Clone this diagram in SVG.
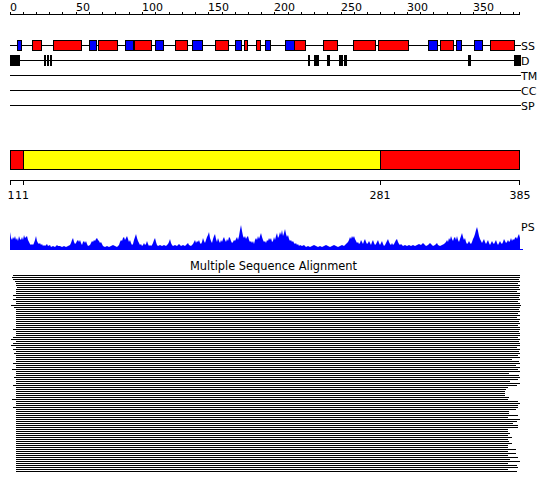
<svg xmlns="http://www.w3.org/2000/svg" width="550" height="495" viewBox="0 0 550 495">
<style>
text{font-family:"DejaVu Sans","Liberation Sans",sans-serif;font-size:11px;fill:#000}
.ln{stroke:#000;stroke-width:1;fill:none}
.h{fill:#ff0000;stroke:#000;stroke-width:1}
.e{fill:#0000ff;stroke:#000;stroke-width:1}
.d{fill:#000}
</style>
<rect width="550" height="495" fill="#fff"/>
<g id="ruler">
<line class="ln" x1="10" y1="14.5" x2="520" y2="14.5"/>
<path class="ln" d="M10.5 12V15M23.5 12V15M36.5 12V15M49.5 12V15M62.5 12V15M76.5 12V15M89.5 12V15M102.5 12V15M115.5 12V15M129.5 12V15M142.5 12V15M155.5 12V15M169.5 12V15M182.5 12V15M195.5 12V15M208.5 12V15M222.5 12V15M235.5 12V15M248.5 12V15M261.5 12V15M274.5 12V15M288.5 12V15M301.5 12V15M314.5 12V15M327.5 12V15M341.5 12V15M354.5 12V15M367.5 12V15M380.5 12V15M394.5 12V15M407.5 12V15M420.5 12V15M433.5 12V15M447.5 12V15M460.5 12V15M473.5 12V15M486.5 12V15M500.5 12V15M513.5 12V15M519.5 12V15"/>
<text x="10" y="10.5">0</text>
<text x="76" y="10.5">50</text>
<text x="142" y="10.5">100</text>
<text x="208" y="10.5">150</text>
<text x="274" y="10.5">200</text>
<text x="341" y="10.5">250</text>
<text x="407" y="10.5">300</text>
<text x="473" y="10.5">350</text>
</g>
<g id="ss-track">
<line class="ln" x1="10" y1="45.5" x2="521" y2="45.5"/>
<rect class="e" x="17.5" y="40.5" width="4" height="10"/>
<rect class="h" x="32.5" y="40.5" width="9" height="10"/>
<rect class="h" x="53.5" y="40.5" width="28" height="10"/>
<rect class="e" x="89.5" y="40.5" width="7" height="10"/>
<rect class="h" x="98.5" y="40.5" width="19" height="10"/>
<rect class="e" x="125.5" y="40.5" width="8" height="10"/>
<rect class="h" x="134.5" y="40.5" width="17" height="10"/>
<rect class="e" x="155.5" y="40.5" width="8" height="10"/>
<rect class="h" x="175.5" y="40.5" width="12" height="10"/>
<rect class="e" x="192.5" y="40.5" width="10" height="10"/>
<rect class="h" x="215.5" y="40.5" width="13" height="10"/>
<rect class="e" x="235.5" y="40.5" width="6" height="10"/>
<rect class="h" x="244.5" y="40.5" width="3" height="10"/>
<rect class="h" x="256.5" y="40.5" width="4" height="10"/>
<rect class="e" x="265.5" y="40.5" width="5" height="10"/>
<rect class="e" x="285.5" y="40.5" width="9" height="10"/>
<rect class="h" x="294.5" y="40.5" width="11" height="10"/>
<rect class="h" x="323.5" y="40.5" width="14" height="10"/>
<rect class="h" x="353.5" y="40.5" width="22" height="10"/>
<rect class="h" x="378.5" y="40.5" width="30" height="10"/>
<rect class="e" x="428.5" y="40.5" width="9" height="10"/>
<rect class="h" x="440.5" y="40.5" width="13" height="10"/>
<rect class="e" x="456.5" y="40.5" width="5" height="10"/>
<rect class="e" x="474.5" y="40.5" width="8" height="10"/>
<rect class="h" x="490.5" y="40.5" width="24" height="10"/>
<text x="521" y="49.5">SS</text>
</g>
<g id="d-track">
<line class="ln" x1="10" y1="60.5" x2="521" y2="60.5"/>
<rect class="d" x="10" y="55" width="10" height="11"/>
<rect class="d" x="44" y="55" width="2" height="11"/>
<rect class="d" x="47" y="55" width="2" height="11"/>
<rect class="d" x="50" y="55" width="2" height="11"/>
<rect class="d" x="308" y="55" width="2" height="11"/>
<rect class="d" x="314" y="55" width="5" height="11"/>
<rect class="d" x="327" y="55" width="3" height="11"/>
<rect class="d" x="339" y="55" width="4" height="11"/>
<rect class="d" x="344" y="55" width="3" height="11"/>
<rect class="d" x="468" y="55" width="3" height="11"/>
<rect class="d" x="514" y="55" width="7" height="11"/>
<text x="521" y="64.5">D</text>
</g>
<g id="tm-track">
<line class="ln" x1="10" y1="75.5" x2="521" y2="75.5"/>
<text x="521" y="79.5">TM</text>
</g>
<g id="cc-track">
<line class="ln" x1="10" y1="90.5" x2="521" y2="90.5"/>
<text x="521" y="94.5">CC</text>
</g>
<g id="sp-track">
<line class="ln" x1="10" y1="105.5" x2="521" y2="105.5"/>
<text x="521" y="109.5">SP</text>
</g>
<g id="domain-bar">
<rect x="10.5" y="150.5" width="509" height="19" fill="#ff0000" stroke="#000"/>
<rect x="23.5" y="150.5" width="357" height="19" fill="#ffff00" stroke="#000"/>
<line class="ln" x1="10" y1="180.5" x2="520" y2="180.5"/>
<path class="ln" d="M10.5 180V185M23.5 180V185M380.5 180V185M519.5 180V185"/>
<text x="11" y="198.5" text-anchor="middle">1</text>
<text x="22" y="198.5" text-anchor="middle">11</text>
<text x="380" y="198.5" text-anchor="middle">281</text>
<text x="520" y="198.5" text-anchor="middle">385</text>
</g>
<g id="ps-profile">
<polygon fill="#0000ff" points="10,250 10,232 11,238 12,240 13,237 14,239 15,236 16,240 17,238 18,241 19,236 20,239 21,240 22,237 23,240 24,235 25,238 26,237 27,236 28,240 29,242 30,244 31,245 32,244 33,245 34,243 35,240 36,236 37,241 38,243 39,244 40,243 41,245 42,244 43,246 44,245 45,246 47,244 48,246 50,245 51,247 53,246 55,247 57,245 58,246 60,246 62,247 64,246 66,247 68,246 70,245 71,243 72,240 73,238 74,242 75,244 76,243 77,241 78,240 79,242 80,240 81,243 82,245 83,242 84,241 85,243 86,241 87,244 88,246 90,245 91,243 92,241 93,242 94,240 95,241 96,239 97,238 98,240 99,241 100,243 101,242 102,244 103,246 105,247 107,246 109,247 111,246 113,245 115,246 117,247 119,245 120,242 121,240 122,241 123,238 124,237 125,240 126,238 127,236 128,239 129,242 130,240 131,243 132,245 133,244 134,240 135,237 136,234 137,238 138,241 139,243 140,245 141,244 142,246 143,245 144,243 145,245 146,244 147,241 148,244 149,246 150,245 151,246 152,245 153,243 154,240 155,238 156,242 157,245 158,246 160,245 162,246 164,245 166,246 168,244 169,242 170,239 171,243 172,245 173,246 175,245 177,246 179,244 181,246 183,245 185,246 187,244 188,243 189,245 191,246 193,244 194,242 195,240 196,243 197,241 198,242 199,240 200,243 201,244 202,242 203,238 204,241 205,243 206,240 207,237 208,235 209,232 210,238 211,241 212,243 213,239 214,236 215,234 216,239 217,242 218,238 219,241 220,243 221,240 222,242 223,239 224,237 225,240 226,242 227,239 228,241 229,237 230,238 231,241 232,243 233,242 234,240 235,241 236,239 237,237 238,240 239,236 240,230 241,225 242,231 243,236 244,238 245,236 246,239 247,237 248,236 249,240 250,242 251,241 252,243 253,241 254,244 255,240 256,238 257,240 258,236 259,239 260,236 261,233 262,237 263,240 264,242 265,241 266,243 267,240 268,241 269,238 270,240 271,238 272,242 273,241 274,237 275,240 276,236 277,233 278,238 279,236 280,232 281,235 282,230 283,236 284,233 285,229 286,234 287,237 288,235 289,239 290,241 291,240 292,242 293,241 294,243 295,244 296,243 297,245 298,244 299,246 300,245 302,246 304,245 306,247 308,246 310,247 312,246 314,245 316,246 318,247 320,246 322,247 324,246 326,245 328,246 330,247 332,246 334,245 336,246 338,247 340,246 342,245 344,246 346,244 348,242 349,240 350,237 351,239 352,236 353,238 354,236 355,239 356,241 357,243 358,242 359,244 360,243 361,240 362,242 363,244 364,241 365,239 366,242 367,244 368,243 369,241 370,243 371,245 372,242 373,240 374,243 375,245 376,244 377,242 378,240 379,243 380,245 381,243 382,241 383,244 384,246 385,245 386,243 387,241 388,239 389,242 390,244 391,245 392,243 393,245 394,244 395,242 396,240 397,239 398,242 399,244 400,245 401,244 403,246 405,245 407,246 409,245 411,246 413,245 415,246 417,245 419,244 421,245 423,243 424,244 426,246 428,245 430,243 431,244 433,246 435,245 437,243 438,245 440,246 442,245 444,244 446,242 447,240 448,242 449,238 450,240 451,236 452,239 453,241 454,238 455,237 456,240 457,236 458,240 459,242 460,239 461,236 462,233 463,237 464,240 465,238 466,242 467,244 468,243 469,241 470,243 471,244 472,242 473,239 474,237 475,234 476,230 477,227 478,231 479,236 480,239 481,241 482,243 483,241 484,239 485,242 486,244 487,242 488,240 489,243 490,245 491,243 492,241 493,243 494,244 495,242 496,240 497,243 498,245 499,243 500,241 501,243 502,244 503,242 504,239 505,241 506,243 507,242 508,240 509,242 510,241 511,238 512,241 513,239 514,240 515,238 516,237 517,239 518,236 519,234 520,238 520,250"/>
<line x1="10" y1="249.5" x2="523" y2="249.5" stroke="#0000ff" stroke-width="1"/>
<text x="521" y="231">PS</text>
</g>
<g id="msa">
<text x="190" y="270" style="font-size:11.4px">Multiple Sequence Alignment</text>
<path stroke="#000" stroke-width="1" fill="none" d="M13 275.5H520M12 277.5H520M13 279.5H519M15 281.5H520M16 283.5H518M16 285.5H520M17 287.5H519M16 289.5H520M16 291.5H517M16 293.5H520M13 295.5H520M16 297.5H519M13 299.5H520M16 301.5H518M16 303.5H520M11 305.5H521M14 307.5H520M16 309.5H519M16 311.5H520M16 313.5H518M16 315.5H520M16 317.5H517M16 319.5H520M16 321.5H519M16 323.5H520M16 325.5H518M16 327.5H520M13 329.5H520M16 331.5H519M16 333.5H520M16 335.5H520M13 337.5H518M11 339.5H520M16 341.5H519M13 343.5H520M11 345.5H520M16 347.5H517M13 349.5H520M16 351.5H519M14 353.5H520M16 355.5H518M16 357.5H520M16 359.5H512M16 361.5H519M13 363.5H520M16 365.5H516M16 367.5H520M12 369.5H518M16 371.5H520M16 373.5H509M16 375.5H519M14 377.5H520M16 379.5H518M16 381.5H510M16 383.5H520M13 385.5H517M16 387.5H508M16 389.5H506M16 391.5H505M16 393.5H505M16 395.5H505M16 397.5H509M12 399.5H508M16 401.5H518M16 403.5H520M16 405.5H518M13 407.5H518M16 409.5H516M16 411.5H509M16 413.5H509M16 415.5H518M16 417.5H508M16 419.5H520M16 421.5H517M16 423.5H513M16 425.5H518M16 427.5H518M16 429.5H508M16 431.5H508M16 433.5H510M16 435.5H508M16 437.5H512M16 439.5H508M16 441.5H509M16 443.5H512M16 445.5H508M16 447.5H508M16 449.5H516M16 451.5H508M16 453.5H516M16 455.5H508M16 457.5H518M16 459.5H510M16 461.5H520M16 463.5H508M16 465.5H517M16 467.5H518M16 469.5H508M16 471.5H517"/>
</g>
</svg>
